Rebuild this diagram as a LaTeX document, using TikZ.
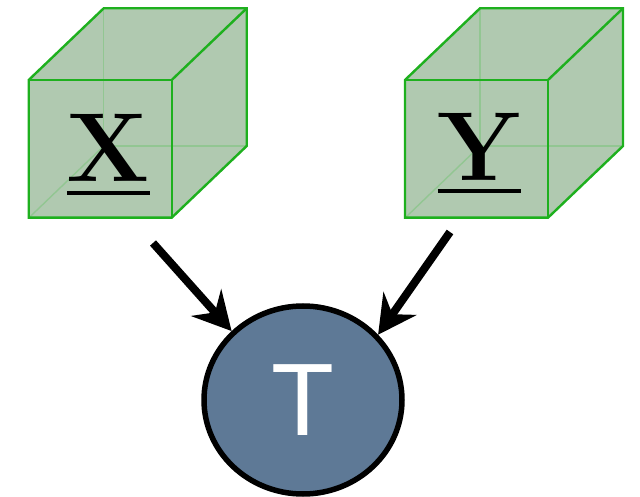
\documentclass[tikz,border=0pt]{standalone}
\usepackage{fontspec}
\newfontfamily\labelsans{Liberation Sans}
\usetikzlibrary{arrows.meta,shapes.geometric}

\definecolor{cubefillc}{RGB}{176,201,176}
\definecolor{cubeedgec}{RGB}{30,176,30}
\definecolor{cubehiddenc}{RGB}{146,198,146}
\definecolor{slatec}{RGB}{94,121,150}

% underlined bold label: the rule spans the width of the letter box
\newcommand\ulbox[1]{\vtop{\hbox{\textbf{#1}}\kern9pt\hrule height 3.6pt}}

\tikzset{
  cubefill/.style={fill=cubefillc},
  cubeedge/.style={draw=cubeedgec, line width=2.4pt, line join=miter},
  cubehidden/.style={draw=cubehiddenc, line width=1.4pt},
  cubelabel/.style={inner sep=0pt, anchor=base, font=\fontsize{98}{100}\selectfont},
  varnode/.style={ellipse, draw=black, line width=5.5pt, fill=slatec,
    minimum width=198pt, minimum height=188pt, inner sep=0pt,
    text=white, font=\labelsans\fontsize{103}{105}\selectfont},
  link/.style={line width=8pt, -{Stealth[length=38pt, width=40pt, inset=13pt]}},
}

\begin{document}
\begin{tikzpicture}[x=1pt, y=-1pt]
\useasboundingbox (0,0) rectangle (640,497);

% two translucent cubes, front face 143 wide, depth offset (75,-71.7)
\foreach \x in {28.7, 405} {
  \fill[cubefill] (\x,80) -- ++(75,-71.7) -- ++(143,0) -- ++(0,137.7)
    -- ++(-75,71.7) -- ++(-143,0) -- cycle;
  \draw[cubehidden] (\x+75,8.3) -- (\x+75,146) -- (\x+218,146);
  \draw[cubehidden] (\x+75,146) -- (\x,218);
  \draw[cubeedge] (\x,80) -- ++(75,-71.7) -- ++(143,0) -- ++(0,137.7)
    -- ++(-75,71.7) -- ++(-143,0) -- cycle;
  \draw[cubeedge] (\x,80) -- (\x+143,80) -- (\x+143,218);
  \draw[cubeedge] (\x+143,80) -- (\x+218,8.3);
}

\node[cubelabel] (lx) at (108.5,182) {\ulbox{X}};
\node[cubelabel] (ly) at (479.5,180.5) {\ulbox{Y}};

\node[varnode] (T) at (303,400) {T};

\coordinate (xs) at (153,243);
\coordinate (ys) at (450,232);

\draw[link] (xs) -- (T.136);
\draw[link] (ys) -- (T.41);
\end{tikzpicture}
\end{document}
